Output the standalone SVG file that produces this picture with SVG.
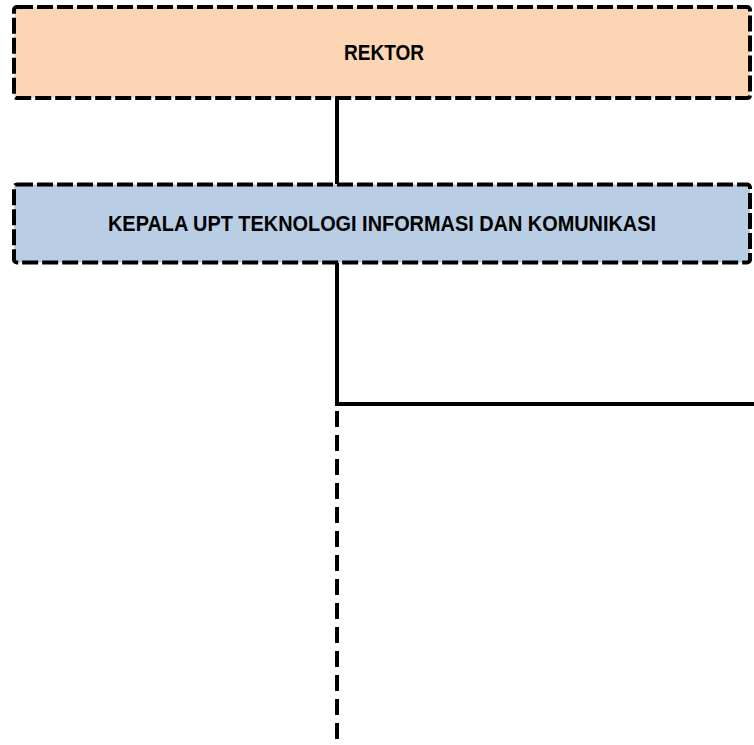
<svg xmlns="http://www.w3.org/2000/svg" width="754" height="745" viewBox="0 0 754 745">
<style>
.box{stroke:#000;stroke-width:4;stroke-dasharray:16 4}
.lbl{font-family:"Liberation Sans",Arial,sans-serif;font-weight:bold;font-size:22px;fill:#000;text-anchor:middle}
.ln{stroke:#000;stroke-width:4;fill:none}
</style>
<rect width="754" height="745" fill="#fff"/>
<g id="connectors">
<line class="ln" x1="337" y1="98" x2="337" y2="184"/>
<polyline class="ln" points="337,263 337,404 754,404"/>
<line class="ln" x1="337" y1="407" x2="337" y2="745" stroke-dasharray="0 4 16 4"/>
</g>
<g id="rektor">
<rect class="box" x="14" y="7" width="736" height="91" rx="3" fill="#fcd5b5"/>
<text class="lbl" x="384" y="59.5" textLength="80" lengthAdjust="spacingAndGlyphs">REKTOR</text>
</g>
<g id="kepala">
<rect class="box" x="14" y="184.5" width="736" height="78" rx="3" fill="#b9cde4"/>
<text class="lbl" x="382" y="230.5" textLength="548" lengthAdjust="spacingAndGlyphs">KEPALA UPT TEKNOLOGI INFORMASI DAN KOMUNIKASI</text>
</g>
</svg>
